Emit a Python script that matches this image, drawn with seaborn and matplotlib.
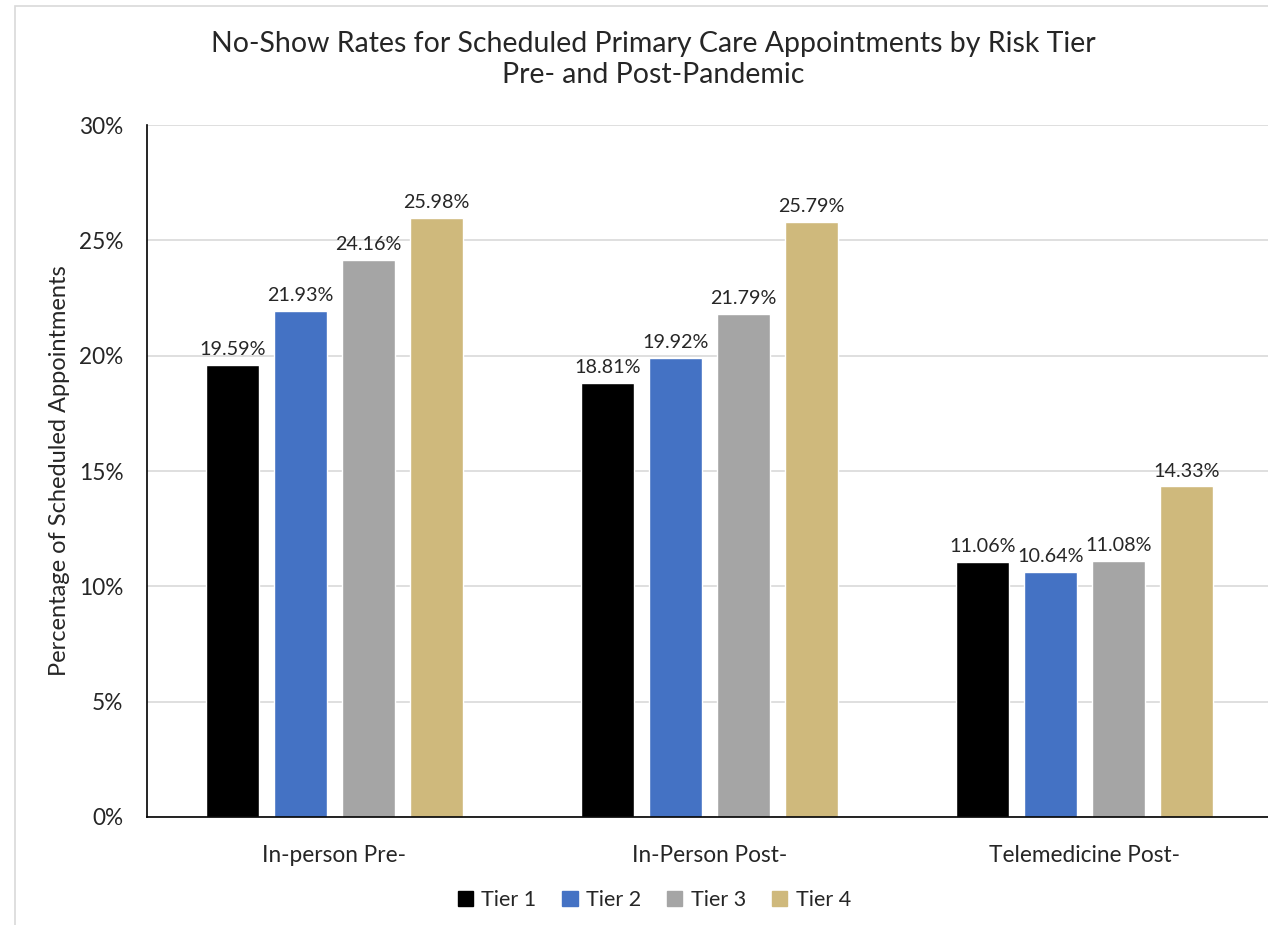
import matplotlib
matplotlib.use("Agg")
import matplotlib.pyplot as plt
import matplotlib.patches as mpatches
import pandas as pd
import seaborn as sns

# Data
categories = ["In-person Pre-", "In-Person Post-", "Telemedicine Post-"]
tiers = ["Tier 1", "Tier 2", "Tier 3", "Tier 4"]
tier1 = [19.59, 18.81, 11.06]
tier2 = [21.93, 19.92, 10.64]
tier3 = [24.16, 21.79, 11.08]
tier4 = [25.98, 25.79, 14.33]
colors = ["#000000", "#4472C4", "#A5A5A5", "#CFB97C"]

rows = []
for tier, vals in zip(tiers, [tier1, tier2, tier3, tier4]):
    for cat, v in zip(categories, vals):
        rows.append({"category": cat, "tier": tier, "rate": v})
df = pd.DataFrame(rows)

sns.set_style("white")
plt.rcParams["font.family"] = ["Lato", "DejaVu Sans"]

fig = plt.figure(figsize=(12.68, 9.25), dpi=100)
ax = fig.add_axes([0.1159, 0.1168, 0.887, 0.748])

sns.barplot(data=df, x="category", y="rate", hue="tier", order=categories,
            hue_order=tiers, palette=colors, width=0.725, gap=0.22,
            saturation=1, legend=False, ax=ax)

for container in ax.containers:
    ax.bar_label(container, fmt="%.2f%%", padding=5, fontsize=14.2)

ax.set_xlim(-0.5, 2.5)
ax.set_ylim(0, 30)
ax.set_yticks(range(0, 31, 5))
ax.set_yticklabels([f"{t}%" for t in range(0, 31, 5)], fontsize=16.3)
ax.tick_params(axis="x", labelsize=16.3, pad=20, length=0)
ax.tick_params(axis="y", pad=17, length=0)
ax.yaxis.grid(True, color="#D9D9D9", linewidth=1.2)
ax.set_axisbelow(True)
for side in ["top", "right"]:
    ax.spines[side].set_visible(False)
for side in ["left", "bottom"]:
    ax.spines[side].set_color("black")
    ax.spines[side].set_linewidth(1.2)
ax.set_xlabel("")
ax.set_ylabel("Percentage of Scheduled Appointments", fontsize=17, labelpad=6)

fig.suptitle("No-Show Rates for Scheduled Primary Care Appointments by Risk Tier\nPre- and Post-Pandemic",
             x=0.515, y=0.966, va="top", fontsize=20.5, linespacing=1.2)

handles = [mpatches.Patch(color=c, label=t) for c, t in zip(colors, tiers)]
fig.legend(handles=handles, loc="center", bbox_to_anchor=(0.516, 0.027), ncol=4,
           frameon=False, fontsize=15.5, handlelength=0.7, handleheight=0.7,
           handletextpad=0.4, columnspacing=1.2)

# light chart-area border
fig.add_artist(mpatches.Rectangle((0.012, -0.01), 1.0, 1.004, transform=fig.transFigure,
                                  fill=False, edgecolor="#D9D9D9", linewidth=1.2))

fig.savefig("out.png", dpi=100)
